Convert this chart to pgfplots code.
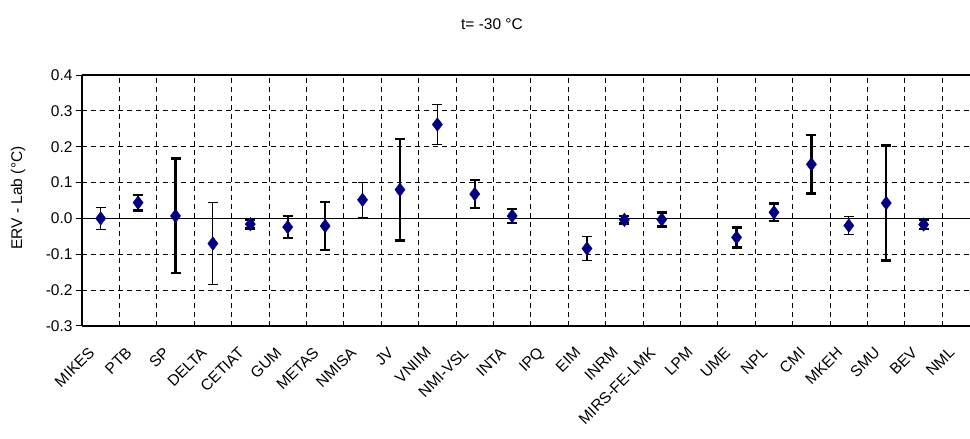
\documentclass[border=0pt]{standalone}
\usepackage{pgfplots}
\pgfplotsset{compat=1.18}
\usepackage{fontspec}
\setmainfont{Liberation Sans}
\definecolor{navyb}{RGB}{0,0,128}
\begin{document}
\begin{tikzpicture}
\useasboundingbox (0,0) rectangle (970pt,439pt);
\begin{axis}[
  at={(82pt,113pt)}, anchor=south west,
  scale only axis, width=888pt, height=251pt,
  axis x line=box, axis y line=left,
  axis line style={-, line width=1.1pt, black},
  xmin=-0.5, xmax=23.24,
  ymin=-0.3, ymax=0.4,
  xtick={0,1,...,23},
  xticklabels={MIKES,PTB,SP,DELTA,CETIAT,GUM,METAS,NMISA,JV,VNIIM,NMI-VSL,INTA,IPQ,EIM,INRM,MIRS-FE-LMK,LPM,UME,NPL,CMI,MKEH,SMU,BEV,NML},
  minor xtick={0.5,1.5,...,22.5},
  xtick style={draw=none},
  ytick={-0.3,-0.2,-0.1,0,0.1,0.2,0.3,0.4},
  ytick style={line width=1pt, black},
  tick align=outside, major tick length=6pt,
  xmajorgrids=false, xminorgrids=true, ymajorgrids=true,
  major grid style={black, line width=1pt, dash pattern=on 5pt off 4pt},
  minor grid style={black, line width=1pt, dash pattern=on 5pt off 4pt},
  extra y ticks={0}, extra y tick labels={},
  extra y tick style={ytick style={draw=none}, major grid style={solid, black, line width=1.1pt}},
  yticklabel style={/pgf/number format/fixed, /pgf/number format/fixed zerofill, /pgf/number format/precision=1, /pgf/number format/assume math mode=true, font=\fontsize{15.5}{17}\selectfont},
  xticklabel style={font=\fontsize{15.5}{17}\selectfont, xshift=-13pt, yshift=-14pt, rotate=45, anchor=north east, inner sep=0pt},
  title={t= -30 \textdegree C},
  title style={at={(0.4617,1.18)}, anchor=center, font=\fontsize{15.5}{17}\selectfont},
  ylabel={ERV - Lab (\textdegree C)},
  ylabel style={at={(-0.072,0.51)}, anchor=center, font=\fontsize{15.5}{17}\selectfont},
  clip=false,
]
% thin error bars
\addplot[only marks, mark=diamond*, mark size=6.8pt, mark options={navyb, fill=navyb},
  error bars/.cd, y dir=both, y explicit, error mark=-,
  error bar style={black, line width=1.1pt},
  error mark options={rotate=90, black, line width=1.1pt, mark size=5pt}]
  coordinates {
  (0,0.000) +- (0,0.030)
  (3,-0.070) +- (0,0.115)
  (7,0.052) +- (0,0.049)
  (9,0.262) +- (0,0.055)
  (13,-0.084) +- (0,0.034)
  (20,-0.020) +- (0,0.026)
  };
% thick error bars
\addplot[only marks, mark=diamond*, mark size=6.8pt, mark options={navyb, fill=navyb},
  error bars/.cd, y dir=both, y explicit, error mark=-,
  error bar style={black, line width=2.4pt},
  error mark options={rotate=90, black, line width=2.4pt, mark size=5pt}]
  coordinates {
  (1,0.044) +- (0,0.022)
  (2,0.007) +- (0,0.160)
  (4,-0.016) +- (0,0.012)
  (5,-0.024) +- (0,0.030)
  (6,-0.021) +- (0,0.067)
  (8,0.080) +- (0,0.142)
  (10,0.068) +- (0,0.039)
  (11,0.007) +- (0,0.020)
  (14,-0.004) +- (0,0.010)
  (15,-0.003) +- (0,0.020)
  (17,-0.053) +- (0,0.028)
  (18,0.017) +- (0,0.025)
  (19,0.151) +- (0,0.082)
  (21,0.043) +- (0,0.160)
  (22,-0.017) +- (0,0.012)
  };
\end{axis}
\end{tikzpicture}
\end{document}
